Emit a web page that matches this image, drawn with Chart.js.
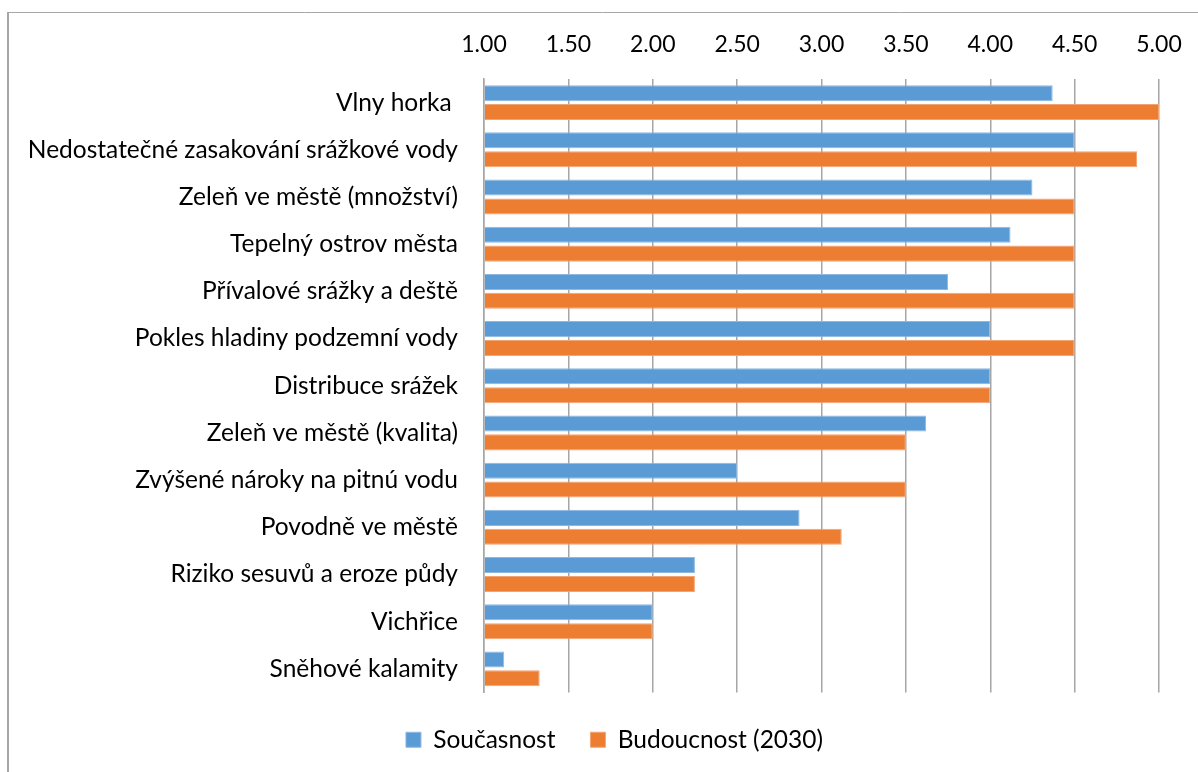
<!DOCTYPE html>
<html lang="cs">
<head>
<meta charset="utf-8">
<title>Klimatická rizika – současnost a budoucnost</title>
<script src="https://cdn.jsdelivr.net/npm/chart.js@4.4.1/dist/chart.umd.min.js"></script>
<style>
  html, body { margin: 0; padding: 0; background: #fff; }
  #wrap { position: relative; width: 1198px; height: 772px; }
</style>
</head>
<body>
<div id="wrap"><canvas id="chart" width="1198" height="772"></canvas></div>
<script>
// Hodnocení rizik (průměrné skóre 1–5)
const categories = [
  'Vlny horka ',
  'Nedostatečné zasakování srážkové vody',
  'Zeleň ve městě (množství)',
  'Tepelný ostrov města',
  'Přívalové srážky a deště',
  'Pokles hladiny podzemní vody',
  'Distribuce srážek',
  'Zeleň ve městě (kvalita)',
  'Zvýšené nároky na pitnú vodu',
  'Povodně ve městě',
  'Riziko sesuvů a eroze půdy',
  'Vichřice',
  'Sněhové kalamity'
];
const soucasnost = [4.37, 4.50, 4.25, 4.12, 3.75, 4.00, 4.00, 3.62, 2.50, 2.87, 2.25, 2.00, 1.12];
const budoucnost = [5.00, 4.87, 4.50, 4.50, 4.50, 4.50, 4.00, 3.50, 3.50, 3.12, 2.25, 2.00, 1.33];
const xTicks = [1.00, 1.50, 2.00, 2.50, 3.00, 3.50, 4.00, 4.50, 5.00];
const seriesNames = ['Současnost', 'Budoucnost (2030)'];

const FONT = 'Lato, "Open Sans", sans-serif';
const GRID = '#a6a6a6';

// thin frame along the top and left edge of the figure
const framePlugin = {
  id: 'frame',
  beforeDraw(chart) {
    const ctx = chart.ctx;
    ctx.save();
    ctx.fillStyle = '#fff';
    ctx.fillRect(0, 0, chart.width, chart.height);
    ctx.strokeStyle = '#a6a6a6';
    ctx.lineWidth = 1;
    ctx.beginPath();
    ctx.moveTo(7, 12.5);
    ctx.lineTo(chart.width, 12.5);
    ctx.stroke();
    ctx.lineWidth = 2;
    ctx.beginPath();
    ctx.moveTo(8, 12);
    ctx.lineTo(8, chart.height);
    ctx.stroke();
    ctx.restore();
  }
};

// nudge the legend row a little to the right of the canvas centre
const legendShift = {
  id: 'legendShift',
  afterLayout(chart) {
    const lg = chart.legend;
    if (lg) { lg.left += 35; lg.right += 35; }
  }
};

new Chart(document.getElementById('chart'), {
  type: 'bar',
  data: {
    labels: categories,
    datasets: [
      { label: seriesNames[0], data: soucasnost, backgroundColor: '#5b9bd5', borderColor: '#8db8e2', borderWidth: 1 },
      { label: seriesNames[1], data: budoucnost, backgroundColor: '#ed7d31', borderColor: '#f3a473', borderWidth: 1 }
    ]
  },
  options: {
    indexAxis: 'y',
    responsive: false,
    animation: false,
    devicePixelRatio: 1,
    layout: { padding: { top: 0, right: 39, bottom: 10, left: 0 } },
    datasets: { bar: { categoryPercentage: 0.8, barPercentage: 0.85, base: 1 } },
    scales: {
      x: {
        position: 'top',
        min: 1, max: 5,
        afterBuildTicks(scale) { scale.ticks = xTicks.map(v => ({ value: v })); },
        afterFit(scale) {
          scale.height = 79;
          scale.paddingLeft = 0;
          scale.paddingRight = 0;
        },
        ticks: {
          padding: 21,
          color: '#000',
          font: { family: FONT, size: 23 },
          callback: v => Number(v).toFixed(2),
          maxRotation: 0
        },
        grid: { color: GRID, lineWidth: 1.5, drawTicks: false },
        border: { display: false }
      },
      y: {
        afterFit(scale) { scale.width = 484; },
        ticks: {
          padding: 26,
          color: '#000',
          font: { family: FONT, size: 24.5 }
        },
        grid: { display: false, drawTicks: false },
        border: { display: true, color: GRID, width: 1.5 }
      }
    },
    plugins: {
      legend: {
        position: 'bottom',
        labels: {
          boxWidth: 15,
          boxHeight: 15,
          padding: 35,
          color: '#000',
          font: { family: FONT, size: 24.5 }
        }
      },
      tooltip: { enabled: false }
    }
  },
  plugins: [framePlugin, legendShift]
});
</script>
</body>
</html>
